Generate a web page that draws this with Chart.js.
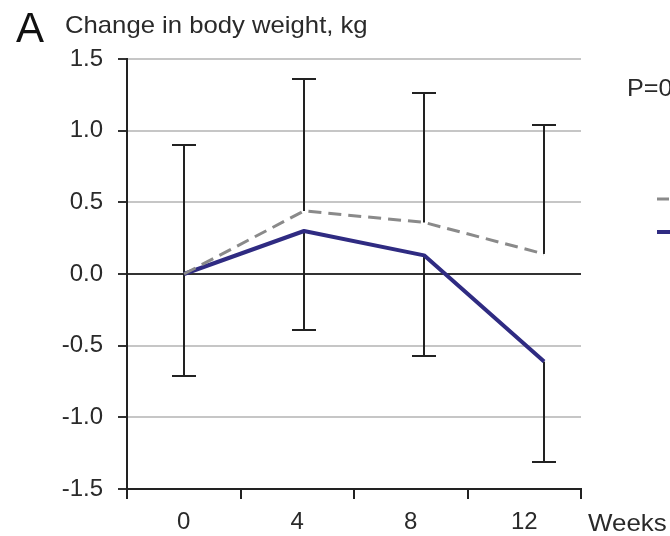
<!DOCTYPE html>
<html><head><meta charset="utf-8">
<script src="https://cdn.jsdelivr.net/npm/chart.js@4.4.1/dist/chart.umd.min.js"></script>
<style>html,body{margin:0;padding:0;background:#fff;}#wrap{position:relative;width:670px;height:536px;}</style>
</head><body><div id="wrap"><canvas id="c" width="670" height="536"></canvas></div>
<script>
// ---- data ----
const weeks = [0, 4, 8, 12];
const weekLabels = ['0', '4', '8', '12'];
const yTickValues = [-1.5, -1.0, -0.5, 0, 0.5, 1.0, 1.5];
const dashedSeries = [0, 0.44, 0.36, 0.14];
const dashedUpper = [0.90, 1.36, 1.26, 1.04];
const solidSeries = [0, 0.30, 0.13, -0.61];
const solidLower = [-0.71, -0.39, -0.57, -1.31];

const FONT = 'Liberation Sans, Arial, sans-serif';
const TEXT_COLOR = '#2a2a2a';
const DASH_COLOR = '#8a8a8a';
const SOLID_COLOR = '#2f2b82';

const errorBars = {
  id: 'errorBars',
  beforeDatasetsDraw(chart) {
    const ctx = chart.ctx, xs = chart.scales.x2, ys = chart.scales.y;
    ctx.save();
    ctx.strokeStyle = '#222';
    ctx.lineWidth = 2;
    const cap = 12;
    const draw = (vals, ends) => vals.forEach((v, i) => {
      const px = Math.round(xs.getPixelForValue(weeks[i]));
      const y0 = ys.getPixelForValue(v), y1 = Math.round(ys.getPixelForValue(ends[i]));
      ctx.beginPath();
      ctx.moveTo(px, y0); ctx.lineTo(px, y1);
      ctx.moveTo(px - cap, y1); ctx.lineTo(px + cap, y1);
      ctx.stroke();
    });
    draw(dashedSeries, dashedUpper);
    draw(solidSeries, solidLower);
    ctx.restore();
  }
};

function stretchedText(ctx, text, x, y, sx) {
  ctx.save();
  ctx.translate(x, y);
  ctx.scale(sx, 1);
  ctx.fillText(text, 0, 0);
  ctx.restore();
}

const annotations = {
  id: 'annotations',
  afterDraw(chart) {
    const ctx = chart.ctx;
    ctx.save();
    ctx.textBaseline = 'alphabetic';
    ctx.textAlign = 'left';
    ctx.fillStyle = '#111';
    ctx.font = '42px ' + FONT;
    ctx.fillText('A', 16, 42);
    ctx.fillStyle = TEXT_COLOR;
    ctx.font = '24px ' + FONT;
    stretchedText(ctx, 'Change in body weight, kg', 65, 33, 1.07);
    stretchedText(ctx, 'Weeks', 588, 531, 1.08);
    stretchedText(ctx, 'P=0', 627, 96, 1.05);
    // legend swatches (cut off by the right edge)
    ctx.lineWidth = 3; ctx.strokeStyle = DASH_COLOR; ctx.setLineDash([12, 7]);
    ctx.beginPath(); ctx.moveTo(657, 199); ctx.lineTo(680, 199); ctx.stroke();
    ctx.setLineDash([]);
    ctx.lineWidth = 4; ctx.strokeStyle = SOLID_COLOR;
    ctx.beginPath(); ctx.moveTo(657, 232); ctx.lineTo(680, 232); ctx.stroke();
    ctx.restore();
  }
};

new Chart(document.getElementById('c'), {
  type: 'line',
  data: {
    datasets: [
      {
        label: 'dashed',
        data: weeks.map((w, i) => ({ x: w, y: dashedSeries[i] })),
        xAxisID: 'x2', yAxisID: 'y',
        borderColor: DASH_COLOR, borderWidth: 3, borderDash: [13, 7],
        pointRadius: 0, tension: 0, fill: false
      },
      {
        label: 'solid',
        data: weeks.map((w, i) => ({ x: w, y: solidSeries[i] })),
        xAxisID: 'x2', yAxisID: 'y',
        borderColor: SOLID_COLOR, borderWidth: 4, borderJoinStyle: 'round',
        pointRadius: 0, tension: 0, fill: false
      }
    ]
  },
  options: {
    responsive: false,
    animation: false,
    devicePixelRatio: 1,
    layout: { padding: { left: 0, right: 89, top: 59, bottom: 0 } },
    plugins: { legend: { display: false }, tooltip: { enabled: false }, title: { display: false } },
    scales: {
      x: {
        type: 'category',
        labels: weekLabels,
        offset: true,
        grid: { offset: true, drawOnChartArea: false, tickLength: 10, tickColor: '#222', lineWidth: 2 },
        border: { display: true, color: '#222', width: 2 },
        ticks: { font: { family: FONT, size: 24 }, color: TEXT_COLOR, padding: 9, maxRotation: 0 },
        afterFit: s => { s.height = 47; }
      },
      x2: { type: 'linear', display: false, min: -1.9, max: 13.23 },
      y: {
        type: 'linear',
        min: -1.5, max: 1.5,
        afterBuildTicks: s => { s.ticks = yTickValues.map(v => ({ value: v })); },
        ticks: {
          font: { family: FONT, size: 24 }, color: TEXT_COLOR, padding: 15,
          callback: v => Number(v).toFixed(1)
        },
        grid: {
          color: c => (c.tick && c.tick.value === 0) ? '#333' : '#c6c6c6',
          lineWidth: 2,
          tickColor: '#333', tickLength: 9, tickWidth: 2
        },
        border: { display: true, color: '#222', width: 2 },
        afterFit: s => { s.width = 127; }
      }
    }
  },
  plugins: [errorBars, annotations]
});
</script></body></html>
